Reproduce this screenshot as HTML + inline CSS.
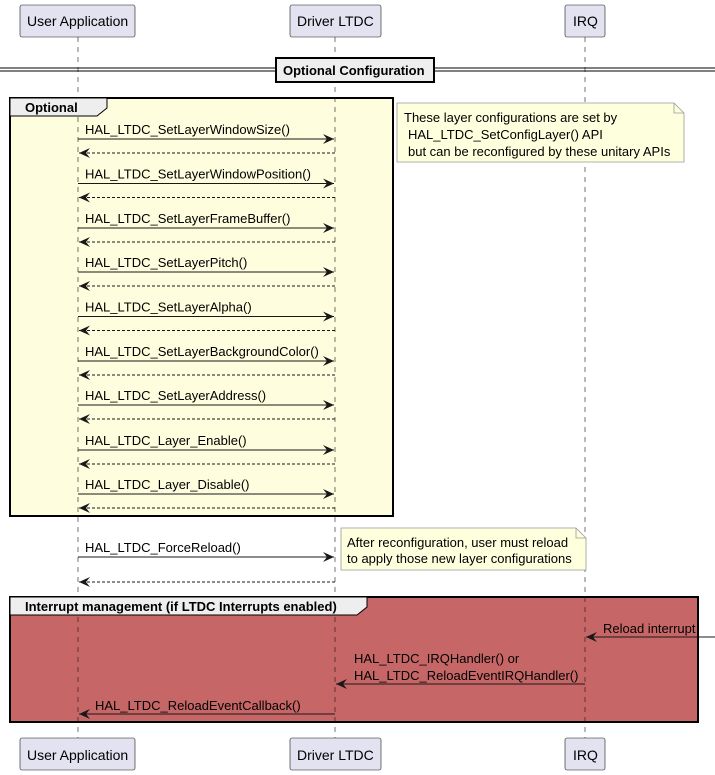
<!DOCTYPE html>
<html><head><meta charset="utf-8"><style>
html,body{margin:0;padding:0;background:#fff;}
svg{display:block;}
text{font-family:"Liberation Sans",sans-serif;font-size:13px;fill:#000;}
.b{font-weight:bold;}
</style></head><body>
<svg width="715" height="775" viewBox="0 0 715 775" xmlns="http://www.w3.org/2000/svg">
<defs>
<marker id="a" markerWidth="12" markerHeight="10" refX="11" refY="5" orient="auto" markerUnits="userSpaceOnUse">
<path d="M0,0 L11,5 L0,10 L4,5 Z" fill="#181818"/>
</marker>
</defs>
<rect x="10" y="98" width="383" height="418" fill="#FEFEDF" stroke="#000" stroke-width="2"/>
<rect x="10" y="597" width="688" height="125" fill="#C76666" stroke="#000" stroke-width="2"/>
<g stroke="#181818" stroke-width="0.6" stroke-dasharray="5,5">
<line x1="78" y1="37" x2="78" y2="738"/>
<line x1="335" y1="37" x2="335" y2="738"/>
<line x1="585" y1="37" x2="585" y2="738"/>
</g>
<g fill="#E2E2F0" stroke="#181818" stroke-width="0.6">
<rect x="20" y="5" width="115" height="32" rx="2"/>
<rect x="290" y="5" width="91" height="32" rx="2"/>
<rect x="565" y="5" width="40" height="32" rx="2"/>
<rect x="20" y="738" width="115" height="32" rx="2"/>
<rect x="290" y="738" width="91" height="32" rx="2"/>
<rect x="565" y="738" width="40" height="32" rx="2"/>
</g>
<text x="27" y="26" style="font-size:14px">User Application</text>
<text x="297" y="26" style="font-size:14px">Driver LTDC</text>
<text x="573" y="26" style="font-size:14px">IRQ</text>
<text x="27" y="760" style="font-size:14px">User Application</text>
<text x="297" y="760" style="font-size:14px">Driver LTDC</text>
<text x="573" y="760" style="font-size:14px">IRQ</text>
<line x1="0" y1="68" x2="715" y2="68" stroke="#000" stroke-width="1"/>
<line x1="0" y1="71" x2="715" y2="71" stroke="#000" stroke-width="1"/>
<rect x="276" y="58" width="158" height="24" fill="#EEEEEE" stroke="#000" stroke-width="2"/>
<text x="283" y="75" class="b">Optional Configuration</text>
<path d="M10,98 L107,98 L107,108 L97,116 L10,116 Z" fill="#EEEEEE" stroke="#000" stroke-width="1"/>
<text x="25" y="112" class="b">Optional</text>
<path d="M397,103 L674,103 L684,113 L684,162 L397,162 Z" fill="#FEFFDD" stroke="#999" stroke-width="0.8"/>
<path d="M674,103 L674,113 L684,113" fill="none" stroke="#999" stroke-width="0.8"/>
<text x="404" y="122">These layer configurations are set by</text>
<text x="408" y="139">HAL_LTDC_SetConfigLayer() API</text>
<text x="408" y="156">but can be reconfigured by these unitary APIs</text>
<g stroke="#181818" stroke-width="1" fill="none">
<line x1="78" y1="139" x2="334" y2="139" marker-end="url(#a)"/>
<line x1="335" y1="153" x2="79" y2="153" stroke-dasharray="3,2" marker-end="url(#a)"/>
<line x1="78" y1="183.5" x2="334" y2="183.5" marker-end="url(#a)"/>
<line x1="335" y1="197.5" x2="79" y2="197.5" stroke-dasharray="3,2" marker-end="url(#a)"/>
<line x1="78" y1="228" x2="334" y2="228" marker-end="url(#a)"/>
<line x1="335" y1="242" x2="79" y2="242" stroke-dasharray="3,2" marker-end="url(#a)"/>
<line x1="78" y1="272" x2="334" y2="272" marker-end="url(#a)"/>
<line x1="335" y1="286" x2="79" y2="286" stroke-dasharray="3,2" marker-end="url(#a)"/>
<line x1="78" y1="316.5" x2="334" y2="316.5" marker-end="url(#a)"/>
<line x1="335" y1="330.5" x2="79" y2="330.5" stroke-dasharray="3,2" marker-end="url(#a)"/>
<line x1="78" y1="361" x2="334" y2="361" marker-end="url(#a)"/>
<line x1="335" y1="375" x2="79" y2="375" stroke-dasharray="3,2" marker-end="url(#a)"/>
<line x1="78" y1="405" x2="334" y2="405" marker-end="url(#a)"/>
<line x1="335" y1="419" x2="79" y2="419" stroke-dasharray="3,2" marker-end="url(#a)"/>
<line x1="78" y1="450" x2="334" y2="450" marker-end="url(#a)"/>
<line x1="335" y1="464" x2="79" y2="464" stroke-dasharray="3,2" marker-end="url(#a)"/>
<line x1="78" y1="494" x2="334" y2="494" marker-end="url(#a)"/>
<line x1="335" y1="508" x2="79" y2="508" stroke-dasharray="3,2" marker-end="url(#a)"/>
<line x1="78" y1="557" x2="334" y2="557" marker-end="url(#a)"/>
<line x1="335" y1="582" x2="79" y2="582" stroke-dasharray="3,2" marker-end="url(#a)"/>
<line x1="715" y1="637" x2="586" y2="637" marker-end="url(#a)"/>
<line x1="585" y1="684" x2="336" y2="684" marker-end="url(#a)"/>
<line x1="335" y1="714" x2="79" y2="714" marker-end="url(#a)"/>
</g>
<text x="85" y="134">HAL_LTDC_SetLayerWindowSize()</text>
<text x="85" y="178.5">HAL_LTDC_SetLayerWindowPosition()</text>
<text x="85" y="223">HAL_LTDC_SetLayerFrameBuffer()</text>
<text x="85" y="267">HAL_LTDC_SetLayerPitch()</text>
<text x="85" y="311.5">HAL_LTDC_SetLayerAlpha()</text>
<text x="85" y="356">HAL_LTDC_SetLayerBackgroundColor()</text>
<text x="85" y="400">HAL_LTDC_SetLayerAddress()</text>
<text x="85" y="445">HAL_LTDC_Layer_Enable()</text>
<text x="85" y="489">HAL_LTDC_Layer_Disable()</text>
<text x="85" y="552">HAL_LTDC_ForceReload()</text>
<path d="M341,528 L576,528 L586,538 L586,570 L341,570 Z" fill="#FEFFDD" stroke="#999" stroke-width="0.8"/>
<path d="M576,528 L576,538 L586,538" fill="none" stroke="#999" stroke-width="0.8"/>
<text x="347" y="547">After reconfiguration, user must reload</text>
<text x="347" y="563">to apply those new layer configurations</text>
<path d="M10,597 L367,597 L367,607 L357,615 L10,615 Z" fill="#EEEEEE" stroke="#000" stroke-width="1"/>
<text x="25" y="611" class="b">Interrupt management (if LTDC Interrupts enabled)</text>
<text x="603" y="633">Reload interrupt</text>
<text x="354" y="663">HAL_LTDC_IRQHandler() or</text>
<text x="354" y="680">HAL_LTDC_ReloadEventIRQHandler()</text>
<text x="95" y="710">HAL_LTDC_ReloadEventCallback()</text>
</svg>
</body></html>
